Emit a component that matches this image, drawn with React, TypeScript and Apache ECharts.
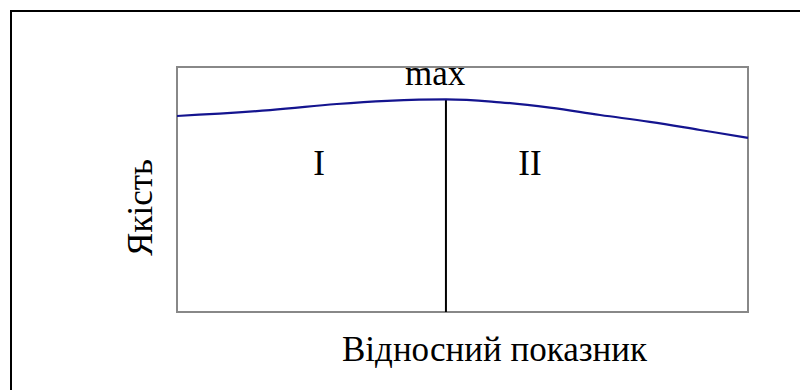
import React, { useEffect, useRef } from "react";
import * as echarts from "echarts";

const curveX = [0, 16.3, 28.0, 36.8, 47.1, 56.6, 65.3, 74.1, 82.8, 91.6, 100];
const curveY = [80.0, 82.4, 84.9, 86.2, 86.8, 85.6, 83.4, 80.4, 77.6, 74.3, 71.1];
const maxX = 47.1;
const maxY = 86.8;
const xAxisName = "Відносний показник";
const yAxisName = "Якість";
const zoneLabels = ["I", "II"];
const zoneLabelX = [24.9, 61.8];
const zoneLabelY = [60.8, 60.8];
const maxLabel = "max";
const maxLabelPos = [45.2, 97.3];

const FONT = "Liberation Serif";
const FS = 35;

export default function App() {
  const ref = useRef<HTMLDivElement>(null);
  useEffect(() => {
    if (!ref.current) return;
    const chart = echarts.init(ref.current, null, { renderer: "svg" });
    const curve = curveX.map((x, i) => [x, curveY[i]]);
    const gridLeft = 177;
    const gridTop = 67;
    const gridW = 571;
    const gridH = 245;
    chart.setOption({
      animation: false,
      grid: {
        left: gridLeft,
        top: gridTop,
        width: gridW,
        height: gridH,
        show: true,
        borderColor: "#888888",
        borderWidth: 2,
        backgroundColor: "transparent",
      },
      xAxis: {
        type: "value",
        min: 0,
        max: 100,
        axisLine: { show: false },
        axisTick: { show: false },
        axisLabel: { show: false },
        splitLine: { show: false },
      },
      yAxis: {
        type: "value",
        min: 0,
        max: 100,
        axisLine: { show: false },
        axisTick: { show: false },
        axisLabel: { show: false },
        splitLine: { show: false },
      },
      series: [
        {
          type: "line",
          data: curve,
          smooth: 0.4,
          showSymbol: false,
          lineStyle: { color: "#14148f", width: 2.2 },
          z: 3,
        },
        {
          type: "line",
          data: [
            [maxX, 0],
            [maxX, maxY],
          ],
          showSymbol: false,
          lineStyle: { color: "#000000", width: 2 },
          z: 2,
        },
      ],
    });
    const px = (p: number[]) => chart.convertToPixel({ gridIndex: 0 }, p) as number[];
    const txt = (text: string, p: number[], extra: any = {}) => ({
      type: "text",
      x: p[0],
      y: p[1],
      ...extra,
      style: {
        text,
        font: "normal normal normal " + FS + "px " + FONT,
        fontFamily: FONT,
        fontSize: FS,
        fill: "#000",
        align: "center",
        verticalAlign: "middle",
      },
      silent: true,
    });
    const graphics: any[] = [
      {
        type: "rect",
        shape: { x: 11, y: 11, width: 900, height: 600 },
        style: { fill: "none", stroke: "#000000", lineWidth: 2 },
        silent: true,
      },
      txt(zoneLabels[0], px([zoneLabelX[0], zoneLabelY[0]])),
      txt(zoneLabels[1], px([zoneLabelX[1], zoneLabelY[1]])),
      txt(maxLabel, px(maxLabelPos)),
      txt(xAxisName, [gridLeft + gridW / 2 + 32, gridTop + gridH + 37]),
      txt(yAxisName, [gridLeft - 37, gridTop + gridH / 2 + 18], { rotation: Math.PI / 2 }),
    ];
    chart.setOption({ graphic: graphics });
    return () => chart.dispose();
  }, []);
  return (
    <div
      ref={ref}
      style={{ position: "fixed", left: 0, top: 0, width: 800, height: 390, background: "#fff" }}
    />
  );
}
